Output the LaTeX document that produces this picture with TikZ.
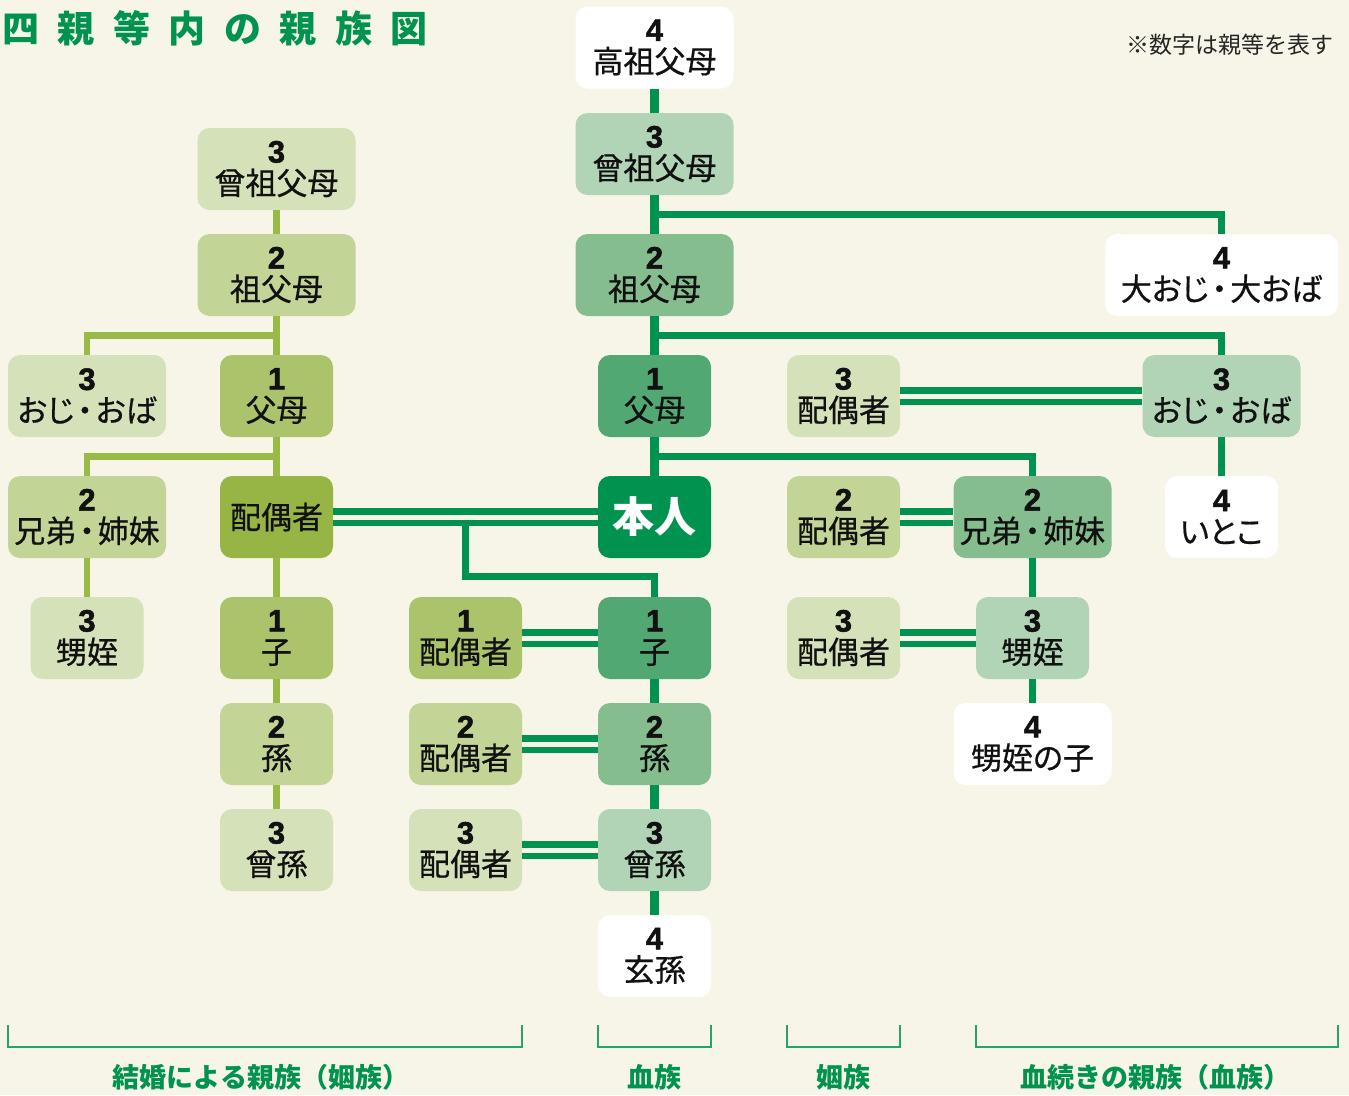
\documentclass[tikz,border=0pt]{standalone}
\usepackage{fontspec}
\usetikzlibrary{calc}
\newfontfamily\jpfont{Noto Sans CJK JP}
\newfontfamily\jppalt[RawFeature=+palt, FakeBold=0.6]{Noto Sans CJK JP}
\newfontfamily\numfont[BoldFont={Liberation Sans Bold}, BoldFeatures={FakeBold=1.6}]{Liberation Sans}
\definecolor{bgc}{HTML}{F7F5E7}
\definecolor{dg}{HTML}{00934F}
\definecolor{cA}{HTML}{52A872}
\definecolor{cB}{HTML}{86BD8F}
\definecolor{cC}{HTML}{B1D4B6}
\definecolor{lS}{HTML}{97B545}
\definecolor{lA}{HTML}{ABC36B}
\definecolor{lB}{HTML}{C2D596}
\definecolor{lC}{HTML}{D5E2B9}
\definecolor{lg}{HTML}{9ABA48}
\definecolor{txt}{HTML}{111111}
\newcommand\kin[2]{{\numfont\bfseries #1}\\{\jppalt #2}}
\newcommand\tsp{\hspace{18.5pt}}
\newcommand\dotc{\hspace{3pt}・\hspace{3pt}}
\begin{document}
\begin{tikzpicture}[x=1pt,y=-1pt,
 box/.style={rounded corners=12pt, inner sep=0pt, minimum height=82pt, align=center, text=txt, font=\fontsize{31}{32}\selectfont},
 wbox/.style={box, minimum width=158pt},
 nbox/.style={box, minimum width=113pt},
 dline/.style={draw=dg, line width=7pt},
 cline/.style={draw=dg, line width=8.5pt},
 lline/.style={draw=lg, line width=6.8pt},
 dbl/.style={draw=dg, line width=6.5pt, double=bgc, double distance=5pt},
 brk/.style={draw=dg!85!white, line width=1.6pt},
 grp/.style={text=dg, font=\jpfont\bfseries\fontsize{27}{30}\selectfont, inner sep=0pt}
]
\fill[bgc] (0,0) rectangle (1349,1095);
\useasboundingbox (0,0) rectangle (1349,1095);

% title and note
\node[anchor=west, inner sep=0pt, text=dg, font=\jpfont\bfseries\fontsize{37}{40}\selectfont] (title) at (2,28.5)
  {四\tsp 親\tsp 等\tsp 内\tsp の\tsp 親\tsp 族\tsp 図};
\node[anchor=east, inner sep=0pt, text=black!85, font=\jpfont\fontsize{23}{25}\selectfont] (note) at (1334,45) {※数字は親等を表す};

% central column
\node[wbox, fill=white] (c4) at (654.5,47.5) {\kin{4}{高祖父母}};
\node[wbox, fill=cC] (c3) at (654.5,154) {\kin{3}{曾祖父母}};
\node[wbox, fill=cB] (c2) at (654.5,275) {\kin{2}{祖父母}};
\node[nbox, fill=cA] (c1) at (654.5,396) {\kin{1}{父母}};
\node[nbox, fill=dg, text=white, font=\jpfont\bfseries\fontsize{42}{44}\selectfont] (hon) at (654.5,517) {本人};
\node[nbox, fill=cA] (k1) at (654.5,638) {\kin{1}{子}};
\node[nbox, fill=cB] (k2) at (654.5,744) {\kin{2}{孫}};
\node[nbox, fill=cC] (k3) at (654.5,850) {\kin{3}{曾孫}};
\node[nbox, fill=white] (k4) at (654.5,956) {\kin{4}{玄孫}};

% left side
\node[wbox, fill=lC] (l3) at (276.5,169) {\kin{3}{曾祖父母}};
\node[wbox, fill=lB] (l2) at (276.5,275) {\kin{2}{祖父母}};
\node[nbox, fill=lA] (l1) at (276.5,396) {\kin{1}{父母}};
\node[nbox, fill=lS] (ls) at (276.5,517) {\jppalt 配偶者};
\node[nbox, fill=lA] (lk1) at (276.5,638) {\kin{1}{子}};
\node[nbox, fill=lB] (lk2) at (276.5,744) {\kin{2}{孫}};
\node[nbox, fill=lC] (lk3) at (276.5,850) {\kin{3}{曾孫}};
\node[wbox, fill=lC] (lo) at (87,396) {\kin{3}{おじ\dotc おば}};
\node[wbox, fill=lB] (lb) at (87,517) {\kin{2}{兄弟\dotc 姉妹}};
\node[nbox, fill=lC] (ln) at (87,638) {\kin{3}{甥姪}};
\node[nbox, fill=lA] (s1) at (465.5,638) {\kin{1}{配偶者}};
\node[nbox, fill=lB] (s2) at (465.5,744) {\kin{2}{配偶者}};
\node[nbox, fill=lC] (s3) at (465.5,850) {\kin{3}{配偶者}};

% right side
\node[box, minimum width=233pt, fill=white] (go) at (1221.5,275) {\kin{4}{大おじ\dotc 大おば}};
\node[nbox, fill=lC] (ros) at (843.5,396) {\kin{3}{配偶者}};
\node[wbox, fill=cC] (ro) at (1221.5,396) {\kin{3}{おじ\dotc おば}};
\node[nbox, fill=lB] (rbs) at (843.5,517) {\kin{2}{配偶者}};
\node[wbox, fill=cB] (rb) at (1032.5,517) {\kin{2}{兄弟\dotc 姉妹}};
\node[nbox, fill=white] (ri) at (1221.5,517) {\kin{4}{いとこ}};
\node[nbox, fill=lC] (rns) at (843.5,638) {\kin{3}{配偶者}};
\node[nbox, fill=cC] (rn) at (1032.5,638) {\kin{3}{甥姪}};
\node[wbox, fill=white] (rnk) at (1032.5,744) {\kin{4}{甥姪の子}};

% central lines
\draw[cline] (c4.south)--(c3.north) (c3.south)--(c2.north) (c2.south)--(c1.north)
  (c1.south)--(hon.north) (k1.south)--(k2.north) (k2.south)--(k3.north) (k3.south)--(k4.north);
\draw[dline] ($(c3.south)!0.5!(c2.north)$) -| (go.north);
\draw[dline] ($(c2.south)!0.5!(c1.north)$) -| (ro.north);
\draw[dline] ($(c1.south)!0.5!(hon.north)$) -| (rb.north);
\draw[dline] (ro.south) -- (ri.north);
\draw[dline] (rb.south) -- (rn.north) (rn.south) -- (rnk.north);

% spouse double lines
\draw[dbl] (ls.east) -- (hon.west);
\draw[dbl] (s1.east) -- (k1.west);
\draw[dbl] (s2.east) -- (k2.west);
\draw[dbl] (s3.east) -- (k3.west);
\draw[dbl] (ros.east) -- (ro.west);
\draw[dbl] (rbs.east) -- (rb.west);
\draw[dbl] (rns.east) -- (rn.west);

% child line from the couple
\coordinate (cjm) at ($(ls.east)!0.5!(hon.west)$);
\coordinate (cj) at ([yshift=-5.75pt]cjm);
\draw[dline] (cj) |- ([yshift=20.5pt]k1.north) -- (k1.north);

% left lines
\draw[lline] (l3.south)--(l2.north) (l2.south)--(l1.north) (l1.south)--(ls.north)
  (ls.south)--(lk1.north) (lk1.south)--(lk2.north) (lk2.south)--(lk3.north);
\draw[lline] ($(l2.south)!0.5!(l1.north)$) -| (lo.north);
\draw[lline] ($(l1.south)!0.5!(ls.north)$) -| (lb.north);
\draw[lline] (lb.south) -- (ln.north);

% brackets
\draw[brk] (lo.west |- 0,1025) |- (s1.east |- 0,1047) -- (s1.east |- 0,1025);
\draw[brk] (hon.west |- 0,1025) |- (hon.east |- 0,1047) -- (hon.east |- 0,1025);
\draw[brk] (rbs.west |- 0,1025) |- (rbs.east |- 0,1047) -- (rbs.east |- 0,1025);
\draw[brk] (rn.west |- 0,1025) |- (go.east |- 0,1047) -- (go.east |- 0,1025);
\node[grp] (g1) at (261,1077) {結婚による親族（姻族）};
\node[grp] (g2) at (654.5,1077) {血族};
\node[grp] (g3) at (843.5,1077) {姻族};
\node[grp] (g4) at (1155,1077) {血続きの親族（血族）};
\end{tikzpicture}
\end{document}
